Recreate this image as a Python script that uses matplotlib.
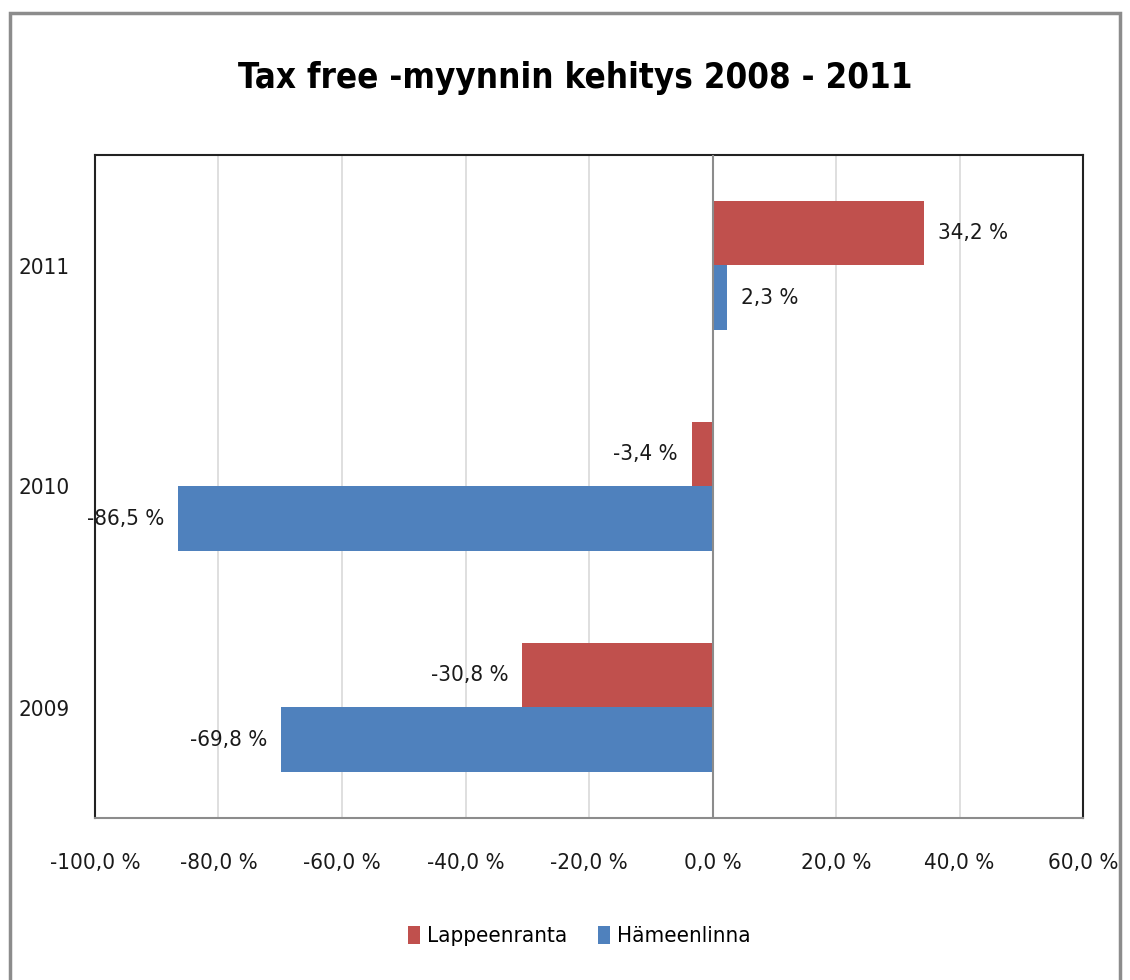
import matplotlib.pyplot as plt
import matplotlib.patches as mpatches
from matplotlib import font_manager
import numpy as np

# pick a narrow font if one is installed
fonts = font_manager.fontManager.ttflist
stretch = 'normal'
if any(f.name == 'Liberation Sans Narrow' for f in fonts):
    family = 'Liberation Sans Narrow'
elif any(f.name == 'DejaVu Sans' and f.stretch == 'condensed' for f in fonts):
    family, stretch = 'DejaVu Sans', 'condensed'
else:
    family = 'Lato'
plt.rcParams['font.family'] = [family, 'DejaVu Sans']
plt.rcParams['font.stretch'] = stretch

# data
years = ['2009', '2010', '2011']
lappeenranta = [-30.8, -3.4, 34.2]
hameenlinna = [-69.8, -86.5, 2.3]
xticks = [-100, -80, -60, -40, -20, 0, 20, 40, 60]

red = '#C0504D'
blue = '#4F81BD'
fs = 16

fig = plt.figure(figsize=(11.3, 9.8), dpi=100)
ax = fig.add_axes([95 / 1130, 162 / 980, 988 / 1130, 663 / 980])

# outer chart border
fig.patches.append(mpatches.Rectangle((10 / 1130, -0.05), 1110 / 1130, 0.05 + 967 / 980,
                                      transform=fig.transFigure, fill=False,
                                      edgecolor='#8c8c8c', linewidth=2.5))

y = np.arange(len(years))
h = 0.29
ax.barh(y + h / 2, lappeenranta, height=h, color=red, label='Lappeenranta', zorder=3)
ax.barh(y - h / 2, hameenlinna, height=h, color=blue, label='Hämeenlinna', zorder=3)

# value labels
for series, off in ((lappeenranta, h / 2), (hameenlinna, -h / 2)):
    for yi, v in zip(y, series):
        txt = f'{v:.1f} %'.replace('.', ',')
        ax.annotate(txt, (v, yi + off), xytext=(10 if v >= 0 else -10, 0),
                    textcoords='offset points', va='center',
                    ha='left' if v >= 0 else 'right', fontsize=fs, color='#1a1a1a')

ax.set_xlim(-100, 60)
ax.set_ylim(-0.5, 2.5)
ax.set_xticks(xticks)
ax.set_xticklabels([f'{t:.1f} %'.replace('.', ',') for t in xticks])
ax.set_yticks(y)
ax.set_yticklabels(years)
ax.tick_params(axis='x', length=0, pad=25, labelsize=fs, colors='#1a1a1a')
ax.tick_params(axis='y', length=0, pad=18, labelsize=fs, colors='#1a1a1a')
ax.grid(axis='x', color='#d9d9d9', linewidth=1.2, zorder=0)
ax.axvline(0, color='#8c8c8c', linewidth=1.5, zorder=4)
for s in ('left', 'top', 'right'):
    ax.spines[s].set_color('#222222')
    ax.spines[s].set_linewidth(1.5)
ax.spines['bottom'].set_color('#8c8c8c')
ax.spines['bottom'].set_linewidth(1.5)

fig.text(575 / 1130, 1 - 78 / 980, 'Tax free -myynnin kehitys 2008 - 2011',
         ha='center', va='center', fontsize=25, fontweight='bold', color='black')

fig.legend(loc='center', bbox_to_anchor=(579 / 1130, 1 - 936 / 980), ncol=2,
           frameon=False, fontsize=fs, handlelength=0.55, handleheight=0.9,
           handletextpad=0.3, columnspacing=1.4)

fig.savefig('out.png', dpi=100)
